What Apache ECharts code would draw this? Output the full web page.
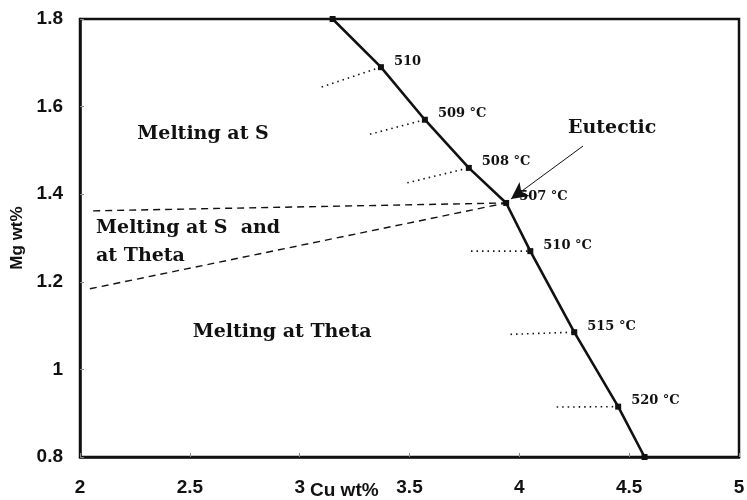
<!DOCTYPE html>
<html>
<head>
<meta charset="utf-8">
<script src="https://cdn.jsdelivr.net/npm/echarts@6/dist/echarts.min.js"></script>
<style>
  html, body { margin: 0; padding: 0; background: #fff; }
  #chart { width: 747px; height: 500px; }
</style>
</head>
<body>
<div id="chart"></div>
<script>
// Liquidus valley (solid line) in Cu / Mg wt% with its temperatures
const liquidusCu = [3.15, 3.37, 3.57, 3.77, 3.94, 4.05, 4.25, 4.45, 4.57];
const liquidusMg = [1.80, 1.69, 1.57, 1.46, 1.38, 1.27, 1.085, 0.915, 0.80];
const liquidusTemps = ['', '510', '509 °C', '508 °C', '507 °C', '510 °C', '515 °C', '520 °C', ''];

// Dotted tie lines: left end of each one (right end sits on the liquidus point)
const tieStartCu = [3.10, 3.32, 3.49, 3.78, 3.96, 4.17];
const tieStartMg = [1.645, 1.537, 1.426, 1.27, 1.08, 0.914];
const tieEndIndex = [1, 2, 3, 5, 6, 7];

// Dashed region boundaries meeting at the eutectic
const upperBoundaryCu = [2.06, 3.94];
const upperBoundaryMg = [1.362, 1.38];
const lowerBoundaryCu = [2.045, 3.94];
const lowerBoundaryMg = [1.184, 1.38];

// Region names and the eutectic callout
const regionNames = ['Melting at S', 'Melting at S  and\nat Theta', 'Melting at Theta'];
const regionCu = [2.56, 2.073, 2.92];
const regionMg = [1.537, 1.291, 1.085];
const regionAlign = ['center', 'left', 'center'];
const calloutText = 'Eutectic';
const calloutCu = [4.29, 3.962];
const calloutMg = [1.51, 1.389];

// Axis ticks
const xTicks = [2, 2.5, 3, 3.5, 4, 4.5, 5];
const yTicks = [0.8, 1, 1.2, 1.4, 1.6, 1.8];

const serif = '"DejaVu Serif", "Liberation Serif", serif';
const sans = '"Liberation Sans", Arial, sans-serif';

const chart = echarts.init(document.getElementById('chart'), null, { renderer: 'canvas' });

const tieSeries = tieStartCu.map((cu, i) => ({
  type: 'line',
  data: [[cu, tieStartMg[i]], [liquidusCu[tieEndIndex[i]], liquidusMg[tieEndIndex[i]]]],
  symbol: 'none',
  lineStyle: { color: '#111', width: 1.6, type: [1.5, 4] },
  silent: true,
  z: 2
}));

const plainLabel = {
  show: true, color: '#111', opacity: 1, fontFamily: serif, fontWeight: 'bold',
  textBorderWidth: 0, textShadowBlur: 0
};

chart.setOption({
  animation: false,
  backgroundColor: '#fff',
  grid: {
    left: 80, right: 8, top: 19, bottom: 43,
    outerBoundsMode: 'none', containLabel: false,
    show: true, borderColor: '#111', borderWidth: 2.5
  },
  xAxis: {
    type: 'value',
    min: xTicks[0], max: xTicks[xTicks.length - 1], interval: 0.5,
    axisLine: { show: true, lineStyle: { color: '#111', width: 2.5 } },
    axisTick: { show: true, inside: true, length: 4, lineStyle: { color: '#888', width: 1 } },
    splitLine: { show: false },
    axisLabel: {
      margin: 21, color: '#111', fontFamily: sans, fontWeight: 'bold', fontSize: 19,
      formatter: v => String(v)
    }
  },
  yAxis: {
    type: 'value',
    min: yTicks[0], max: yTicks[yTicks.length - 1], interval: 0.2,
    name: 'Mg wt%', nameLocation: 'middle', nameGap: 54,
    nameTextStyle: { color: '#111', fontFamily: sans, fontWeight: 'bold', fontSize: 17 },
    axisLine: { show: true, lineStyle: { color: '#111', width: 2.5 } },
    axisTick: { show: true, inside: true, length: 4, lineStyle: { color: '#888', width: 1 } },
    splitLine: { show: false },
    axisLabel: {
      margin: 17, color: '#111', fontFamily: sans, fontWeight: 'bold', fontSize: 19,
      formatter: v => (Math.round(v * 10) / 10).toString()
    }
  },
  graphic: [{
    type: 'text', left: 310, top: 481,
    style: { text: 'Cu wt%', fill: '#111', font: 'bold 19px ' + sans }
  }],
  series: [
    {
      type: 'line',
      data: upperBoundaryCu.map((c, i) => [c, upperBoundaryMg[i]]),
      symbol: 'none',
      lineStyle: { color: '#111', width: 1.4, type: [7, 5] },
      silent: true, z: 2
    },
    {
      type: 'line',
      data: lowerBoundaryCu.map((c, i) => [c, lowerBoundaryMg[i]]),
      symbol: 'none',
      lineStyle: { color: '#111', width: 1.4, type: [7, 5] },
      silent: true, z: 2
    },
    ...tieSeries,
    {
      type: 'line',
      data: liquidusCu.map((c, i) => ({
        value: [c, liquidusMg[i]],
        label: { show: liquidusTemps[i] !== '', formatter: liquidusTemps[i] }
      })),
      symbol: 'rect', symbolSize: 6,
      showAllSymbol: true,
      itemStyle: { color: '#111' },
      lineStyle: { color: '#111', width: 2.6 },
      label: Object.assign({}, plainLabel, {
        position: 'right', distance: 10, offset: [0, -6], fontSize: 13
      }),
      z: 4
    },
    {
      type: 'scatter',
      data: [{ value: [calloutCu[0], calloutMg[0]] }],
      symbolSize: 0,
      itemStyle: { color: '#111', opacity: 1 },
      label: Object.assign({}, plainLabel, {
        formatter: calloutText, position: 'right', distance: 0, offset: [-15, -18], fontSize: 19
      }),
      markLine: {
        silent: true, animation: false,
        symbol: ['none', 'arrow'], symbolSize: [13, 17],
        lineStyle: { color: '#111', width: 1, type: 'solid', opacity: 1 },
        itemStyle: { color: '#111', opacity: 1 },
        label: { show: false },
        data: [[
          { coord: [calloutCu[0], calloutMg[0]] },
          { coord: [calloutCu[1], calloutMg[1]] }
        ]]
      },
      silent: true, z: 5
    },
    {
      type: 'scatter',
      data: regionNames.map((n, i) => ({
        value: [regionCu[i], regionMg[i]],
        label: { formatter: n, align: regionAlign[i] }
      })),
      symbolSize: 0,
      itemStyle: { color: '#111', opacity: 1 },
      label: Object.assign({}, plainLabel, {
        position: [0, 0], verticalAlign: 'middle', lineHeight: 28, fontSize: 19
      }),
      silent: true, z: 5
    }
  ]
});
</script>
</body>
</html>
